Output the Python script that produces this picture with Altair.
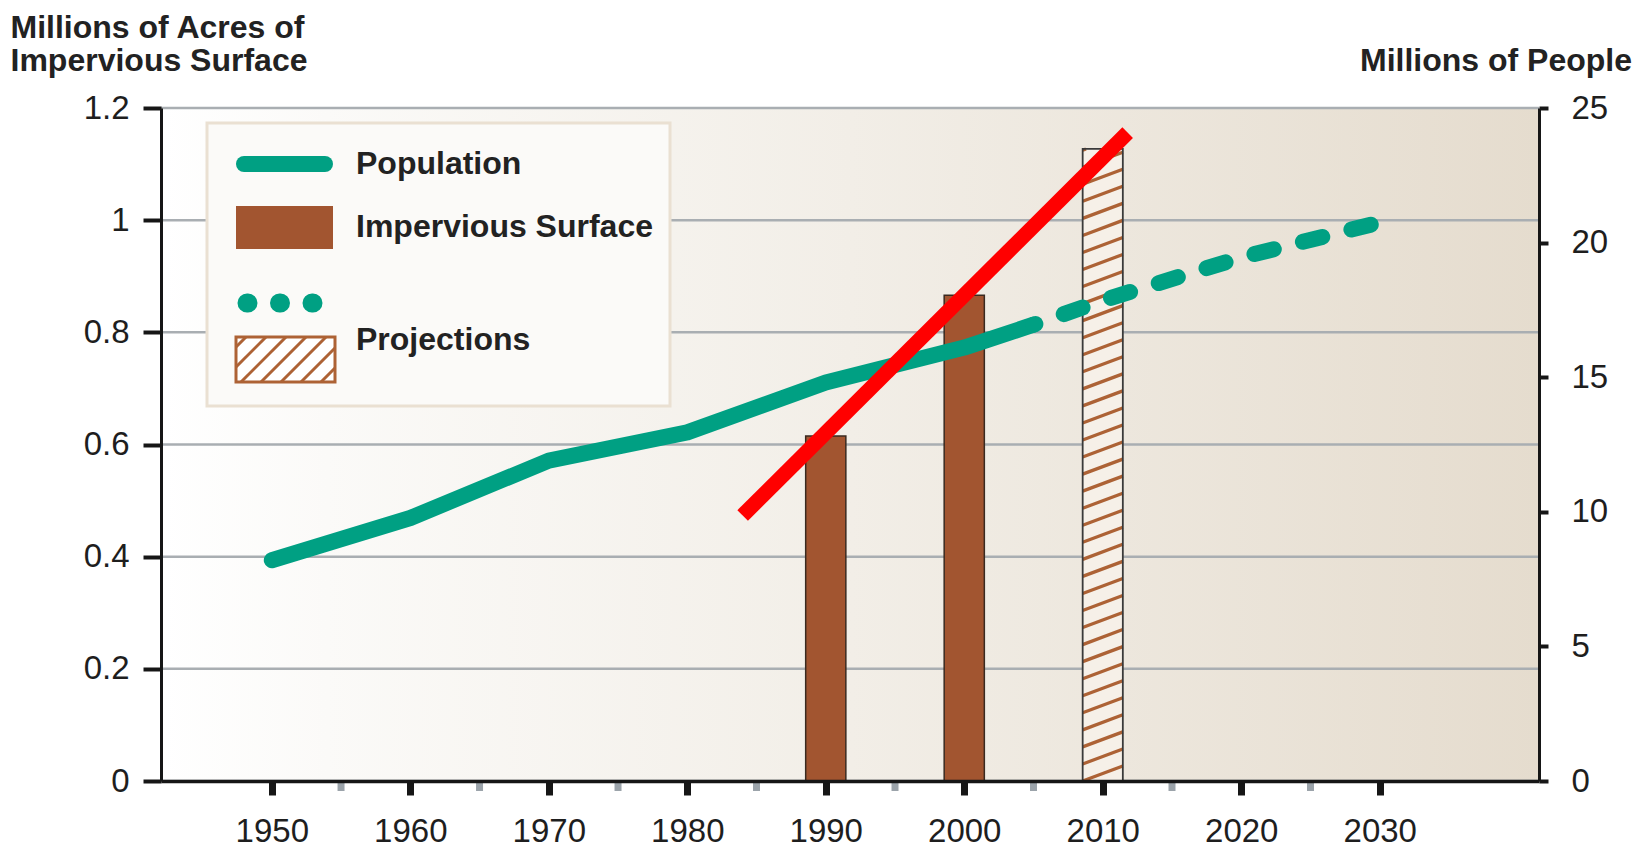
import altair as alt
import pandas as pd
import numpy as np

# ---------------- data ----------------
pop_years_obs = [1950, 1960, 1970, 1980, 1990, 2000, 2005]
pop_obs = [8.2, 9.77, 11.9, 12.95, 14.8, 16.1, 16.95]
pop_years_proj = [2005, 2010, 2020, 2030]
pop_proj = [16.95, 17.85, 19.45, 20.75]

bar_years = [1990, 2000]
bar_values = [0.615, 0.866]
proj_bar_years = [2010]
proj_bar_values = [1.127]

red_years = [1984.0, 2011.8]
red_values = [0.4735, 1.156]

decade_ticks = [1950, 1960, 1970, 1980, 1990, 2000, 2010, 2020, 2030]
minor_ticks = [1955, 1965, 1975, 1985, 1995, 2005, 2015, 2025]
left_ticks = [0, 0.2, 0.4, 0.6, 0.8, 1.0, 1.2]
right_ticks = [0, 5, 10, 15, 20, 25]

legend_labels = ["Population", "Impervious Surface", "Projections"]
title_left = ["Millions of Acres of", "Impervious Surface"]
title_right = "Millions of People"

# ---------------- styling ----------------
W, H = 1378, 673
PADT = 100
FONT = "Liberation Sans"
GREEN = "#00A083"
BROWN = "#A25530"
HATCH = "#AD6235"
DARK = "#161616"
BAR_HALF = 1.45  # half bar width in years

XS = alt.Scale(domain=[1942, 2041.5], nice=False, zero=False)
YLS = alt.Scale(domain=[0, 1.2], nice=False, zero=True)
YRS = alt.Scale(domain=[0, 25], nice=False, zero=True)

XAX = alt.Axis(values=decade_ticks, format="d", title=None, grid=False,
               domainColor=DARK, domainWidth=3.5, tickColor=DARK, tickWidth=7,
               tickSize=14, labelFont=FONT, labelFontSize=33, labelColor="#1e1e1e",
               labelPadding=20, labelFlush=False, labelOverlap=False, zindex=1)
YLAX = alt.Axis(orient="left", values=left_ticks, format="~g", title=None, grid=False,
                domainColor=DARK, domainWidth=3, tickColor=DARK, tickWidth=4,
                tickSize=18, labelFont=FONT, labelFontSize=33, labelColor="#1e1e1e",
                labelPadding=14, labelOverlap=False, zindex=1)
YRAX = alt.Axis(orient="right", values=right_ticks, format="d", title=None, grid=False,
                domainColor=DARK, domainWidth=3, tickColor=DARK, tickWidth=4,
                tickSize=9, labelFont=FONT, labelFontSize=33, labelColor="#1e1e1e",
                labelPadding=23, labelOverlap=False, zindex=1)


def xq(field):
    return alt.X(field, type="quantitative", scale=XS, axis=XAX)


def yl(field):
    return alt.Y(field, type="quantitative", scale=YLS, axis=YLAX)


def yr(field):
    return alt.Y(field, type="quantitative", scale=YRS, axis=YRAX)


ONE = pd.DataFrame({"a": [0]})

# ---------------- background ----------------
bg = alt.Chart(ONE).mark_rect(
    fill=alt.Gradient(gradient="linear", x1=0, x2=1, y1=0, y2=0,
                      stops=[alt.GradientStop(color="#FFFFFF", offset=0),
                             alt.GradientStop(color="#FBFAF8", offset=0.12),
                             alt.GradientStop(color="#F2EEE7", offset=0.5),
                             alt.GradientStop(color="#E5DCCE", offset=1)])
).encode(x=alt.value(0), x2=alt.value(W), y=alt.value(0), y2=alt.value(H))

# ---------------- left-scale group ----------------
grid_df = pd.DataFrame({"v": left_ticks})
grid = alt.Chart(grid_df).mark_rule(color="#A9AEB2", strokeWidth=2.5).encode(
    y=yl("v"), x=alt.value(0), x2=alt.value(W))

bars_df = pd.DataFrame({"year": bar_years, "val": bar_values, "base": [0] * len(bar_years)})
bars = alt.Chart(bars_df).transform_calculate(
    xa=f"datum.year - {BAR_HALF}", xb=f"datum.year + {BAR_HALF}"
).mark_rect(fill=BROWN, stroke="#3a2a20", strokeWidth=1.5).encode(
    x=xq("xa"), x2="xb:Q", y=yl("val"), y2="base:Q")

proj_df = pd.DataFrame({"year": proj_bar_years, "val": proj_bar_values, "base": [0]})
proj_fill = alt.Chart(proj_df).transform_calculate(
    xa=f"datum.year - {BAR_HALF}", xb=f"datum.year + {BAR_HALF}"
).mark_rect(fill="#F6F0E8").encode(x=xq("xa"), x2="xb:Q", y=yl("val"), y2="base:Q")

# hatch pattern for the projected bar (decoration, clipped to the bar)
spacing, rise = 0.0304, 0.0268
segs = []
for yv, top in zip(proj_bar_years, proj_bar_values):
    xl, xr = yv - BAR_HALF, yv + BAR_HALF
    k = -3
    while k * spacing < top:
        v = k * spacing
        t0 = max(0.0, -v / rise)
        t1 = min(1.0, (top - v) / rise)
        if t1 > t0:
            segs.append({"xa": xl + t0 * (xr - xl), "ya": v + rise * t0,
                         "xb": xl + t1 * (xr - xl), "yb": v + rise * t1})
        k += 1
hatch_df = pd.DataFrame(segs)
hatch = alt.Chart(hatch_df).mark_rule(color=HATCH, strokeWidth=3.3).encode(
    x=xq("xa"), x2="xb:Q", y=yl("ya"), y2="yb:Q")

proj_outline = alt.Chart(proj_df).transform_calculate(
    xa=f"datum.year - {BAR_HALF}", xb=f"datum.year + {BAR_HALF}"
).mark_rect(fill=None, stroke="#3a3a3a", strokeWidth=1.8).encode(
    x=xq("xa"), x2="xb:Q", y=yl("val"), y2="base:Q")

left_group = alt.layer(grid, bars, proj_fill, hatch, proj_outline)

# ---------------- legend (decoration) ----------------
leg = []
leg.append(alt.Chart(ONE).mark_rect(fill="#FBFAF8", stroke="#EAE0D2", strokeWidth=3).encode(
    x=alt.value(46), x2=alt.value(509), y=alt.value(15), y2=alt.value(298)))
leg.append(alt.Chart(ONE).mark_rule(color=GREEN, strokeWidth=16, strokeCap="round").encode(
    x=alt.value(83), x2=alt.value(164), y=alt.value(56)))
leg.append(alt.Chart(ONE).mark_rect(fill=BROWN).encode(
    x=alt.value(75), x2=alt.value(172), y=alt.value(98), y2=alt.value(141)))
leg.append(alt.Chart(ONE).mark_rule(color=GREEN, strokeWidth=19, strokeCap="round",
                                    strokeDash=[1, 31.5]).encode(
    x=alt.value(86), x2=alt.value(152), y=alt.value(195)))
leg.append(alt.Chart(ONE).mark_rect(fill="#FFFFFF").encode(
    x=alt.value(75), x2=alt.value(174), y=alt.value(229), y2=alt.value(274)))
lx0, lx1, ly0, ly1 = 75, 174, 229, 274
for c in range(lx0 + ly0 + 10, lx1 + ly1, 20):
    xs_ = max(lx0, c - ly1)
    xe_ = min(lx1, c - ly0)
    if xe_ > xs_:
        leg.append(alt.Chart(ONE).mark_rule(color=HATCH, strokeWidth=3).encode(
            x=alt.value(xs_), y=alt.value(c - xs_), x2=alt.value(xe_), y2=alt.value(c - xe_)))
leg.append(alt.Chart(ONE).mark_rect(fill=None, stroke=HATCH, strokeWidth=3).encode(
    x=alt.value(75), x2=alt.value(174), y=alt.value(229), y2=alt.value(274)))
for txt, yy in zip(legend_labels, [56, 119, 232]):
    leg.append(alt.Chart(ONE).mark_text(align="left", baseline="middle", font=FONT,
                                        fontSize=32, fontWeight="bold", color="#222222").encode(
        x=alt.value(195), y=alt.value(yy), text=alt.value(txt)))

# ---------------- population (right scale) ----------------
obs_df = pd.DataFrame({"year": pop_years_obs, "pop": pop_obs})
proj_pop_df = pd.DataFrame({"year": pop_years_proj, "pop": pop_proj})
pop_solid = alt.Chart(obs_df).mark_line(color=GREEN, strokeWidth=16, strokeCap="round",
                                        strokeJoin="round").encode(x=xq("year"), y=yr("pop"))
pop_dash = alt.Chart(proj_pop_df).mark_line(color=GREEN, strokeWidth=16, strokeCap="round",
                                            strokeJoin="round", strokeDash=[20, 30],
                                            strokeDashOffset=18).encode(x=xq("year"), y=yr("pop"))
right_group = alt.layer(pop_solid, pop_dash)

# ---------------- red annotation line ----------------
red_df = pd.DataFrame({"year": red_years, "v": red_values})
red = alt.Chart(red_df).mark_line(color="#FF0000", strokeWidth=15, strokeCap="butt").encode(
    x=xq("year"), y=alt.Y("v:Q", scale=YLS, axis=None))

# ---------------- minor x ticks ----------------
minor_df = pd.DataFrame({"year": minor_ticks})
minor = alt.Chart(minor_df).mark_rule(color="#9BA3AA", strokeWidth=7).encode(
    x=xq("year"), y=alt.value(H + 1.5), y2=alt.value(H + 10))

# ---------------- axis titles ----------------
titles = []
for txt, yy in zip(title_left, [-80, -47]):
    titles.append(alt.Chart(ONE).mark_text(align="left", baseline="middle", font=FONT,
                                           fontSize=32, fontWeight="bold", color="#222222").encode(
        x=alt.value(-150.5), y=alt.value(yy), text=alt.value(txt)))
titles.append(alt.Chart(ONE).mark_text(align="right", baseline="middle", font=FONT,
                                       fontSize=32, fontWeight="bold", color="#222222").encode(
    x=alt.value(1471), y=alt.value(-47), text=alt.value(title_right)))

chart = alt.layer(bg, left_group, *leg, right_group, red, minor, *titles).resolve_scale(
    y="independent"
).properties(
    width=W, height=H,
    padding={"left": 153, "top": PADT, "right": 95, "bottom": 80},
    autosize=alt.AutoSizeParams(type="none"),
    background="white",
).configure_view(stroke=None)

chart.save("out.html", embed_options={"renderer": "svg", "actions": False})
